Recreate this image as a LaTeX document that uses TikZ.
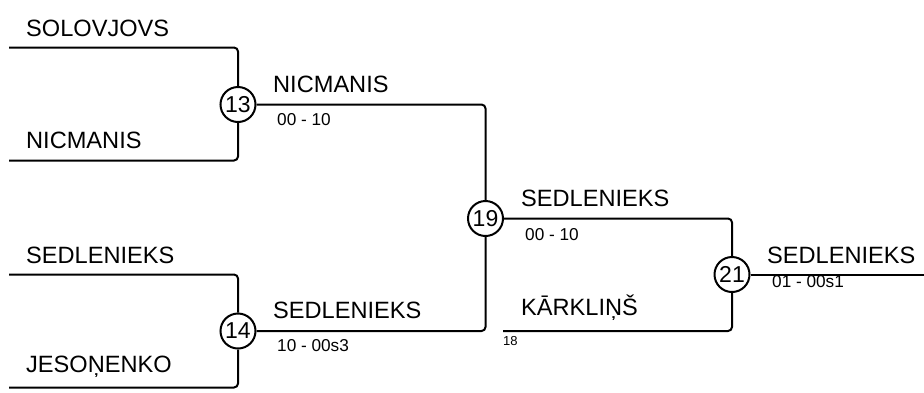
\documentclass[tikz,border=0pt]{standalone}
\usepackage{fontspec}
\setmainfont{Liberation Sans}
\begin{document}
\begin{tikzpicture}[x=1pt,y=-1pt,
  bl/.style={line width=2pt,rounded corners=4pt},
  match/.style={circle,draw,line width=2pt,minimum size=35pt,inner sep=0pt,font=\fontsize{23}{26}\selectfont},
  plname/.style={anchor=base west,inner sep=0pt,font=\fontsize{23.6}{27}\selectfont},
  score/.style={anchor=base west,inner sep=0pt,font=\fontsize{17.2}{19}\selectfont},
  seed/.style={anchor=base west,inner sep=0pt,font=\fontsize{13}{15}\selectfont}]
\useasboundingbox (0,0) rectangle (924,392);
% match circles
\node[match] (m13) at (238,104.5) {13};
\node[match] (m14) at (238,331) {14};
\node[match] (m19) at (485.5,218.5) {19};
\node[match] (m21) at (732,274.5) {21};
% free ends
\coordinate (a1) at (9,47.5);
\coordinate (a2) at (9,160.5);
\coordinate (b1) at (9,274.5);
\coordinate (b2) at (9,387.5);
\coordinate (k1) at (503,331);
\coordinate (fin) at (924,274.5);
% connectors
\draw[bl] (a1) -| (m13.north);
\draw[bl] (a2) -| (m13.south);
\draw[bl] (b1) -| (m14.north);
\draw[bl] (b2) -| (m14.south);
\draw[bl] (m13.east) -| (m19.north);
\draw[bl] (m14.east) -| (m19.south);
\draw[bl] (m19.east) -| (m21.north);
\draw[bl] (k1) -| (m21.south);
\draw[bl] (m21.east) -- (fin);
% names
\node[plname] (t1) at (26,36) {SOLOVJOVS};
\node[plname] (t2) at (26,148.5) {NICMANIS};
\node[plname] (t3) at (26,263) {SEDLENIEKS};
\node[plname] (t4) at (26,372) {JESOŅENKO};
\node[plname] (t5) at (273,92.5) {NICMANIS};
\node[plname] (t6) at (273,318.5) {SEDLENIEKS};
\node[plname] (t7) at (521,206) {SEDLENIEKS};
\node[plname] (t8) at (521,315) {KĀRKLIŅŠ};
\node[plname] (t9) at (767,263) {SEDLENIEKS};
% scores
\node[score] (s1) at (277,125) {00 - 10};
\node[score] (s2) at (277,351) {10 - 00s3};
\node[score] (s3) at (525,240) {00 - 10};
\node[score] (s4) at (772,287.5) {01 - 00s1};
\node[seed] (d1) at (503,345) {18};
\end{tikzpicture}
\end{document}
